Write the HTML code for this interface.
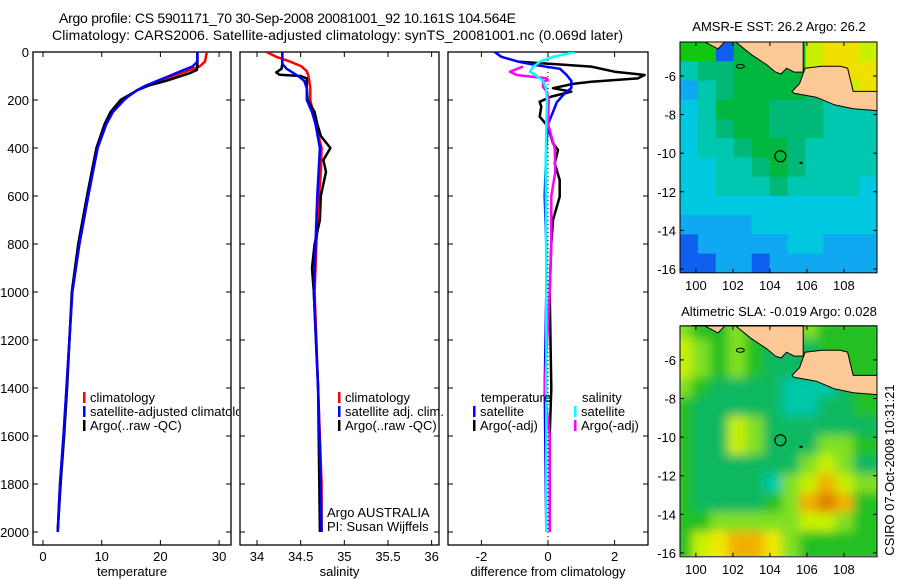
<!DOCTYPE html>
<html><head><meta charset="utf-8"><style>
body{margin:0;background:#fff;}
svg{display:block;font-family:"Liberation Sans",sans-serif;}
text{fill:#000;}
</style></head><body>
<svg id="fig" width="900" height="580" viewBox="0 0 900 580">
<defs>
<clipPath id="c1"><rect x="33" y="52" width="198" height="493"/></clipPath>
<clipPath id="c1leg"><rect x="33" y="52" width="206" height="493"/></clipPath>
<clipPath id="c2"><rect x="240" y="52" width="199" height="493"/></clipPath>
<clipPath id="c3"><rect x="448" y="52" width="200" height="493"/></clipPath>
<clipPath id="m1"><rect x="680" y="42" width="197" height="231"/></clipPath>
<clipPath id="m2"><rect x="680" y="325" width="197" height="231"/></clipPath>
<filter id="blur" x="-10%" y="-10%" width="120%" height="120%"><feGaussianBlur stdDeviation="5"/></filter>
</defs>
<text x="59" y="23" font-size="14" textLength="457">Argo profile: CS 5901171_70 30-Sep-2008 20081001_92 10.161S 104.564E</text>
<text x="52" y="40" font-size="14" textLength="571">Climatology: CARS2006. Satellite-adjusted climatology: synTS_20081001.nc (0.069d later)</text>
<g id="root"></g>
</svg>
<script>
// ---------- data ----------
const depths_tc = [0,40,60,80,100,120,140,160,180,200,250,300,400,600,800,1000,1400,1600,1800,2000];
const temp_clim = [27.9,27.6,26.7,24.5,22.1,19.9,17.8,16,14.8,13.6,11.8,10.7,9.3,7.7,6.2,5.0,4.0,3.5,2.9,2.5];
const depths_ts = [0,40,60,80,100,120,140,160,180,200,250,300,400,600,800,1000,1400,1600,1800,2000];
const temp_sat = [26.3,26.3,25.5,23.5,21.5,19.5,17.5,16,14.8,13.8,11.9,10.8,9.3,7.7,6.2,5.0,4.0,3.5,2.9,2.5];
const depths_ta = [0,60,75,90,100,120,140,160,200,250,300,400,600,800,1000,1400,1600,1800,2000];
const temp_argo = [26.3,26.3,26.2,24.8,23.5,21,18,16,13.2,11.5,10.5,9.1,7.5,6.0,4.9,4.1,3.6,3.0,2.5];

const depths_sc = [0,20,40,60,80,100,150,200,300,400,500,600,800,1000,1400,1800,2000];
const sal_clim = [34.11,34.22,34.38,34.51,34.57,34.59,34.61,34.61,34.67,34.74,34.73,34.71,34.68,34.66,34.70,34.74,34.74];
const depths_ss = [0,50,70,100,120,150,200,250,300,400,600,800,1000,1400,1800,2000];
const sal_sat = [34.29,34.29,34.34,34.47,34.54,34.57,34.57,34.63,34.67,34.72,34.69,34.67,34.65,34.70,34.73,34.74];
const depths_sa = [0,50,70,85,95,100,110,150,200,250,300,350,400,450,500,600,700,800,900,1000,1400,2000];
const sal_argo = [34.29,34.29,34.28,34.22,34.26,34.5,34.57,34.57,34.58,34.66,34.69,34.73,34.84,34.76,34.79,34.73,34.72,34.66,34.63,34.65,34.70,34.72];

const depths_dta = [40,61,82,96,110,124,133,151,165,186,207,228,269,311,381,408,464,533,603,700,800,1000,1400,1600,2000];
const diff_temp_argo = [-0.9,1.3,2.0,2.9,2.7,1.3,0.75,0.15,0.7,0.1,-0.25,-0.2,-0.25,0.0,0.15,0.3,0.2,0.35,0.35,0.15,0.1,0.05,0.1,0.05,0.05];
const depths_dts = [0,20,40,55,70,96,120,150,180,210,250,300,400,600,800,1000,1400,2000];
const diff_temp_sat = [-1.6,-1.4,-0.9,-0.35,0.36,0.56,0.7,0.7,0.45,0.26,0.15,0,-0.05,-0.1,-0.05,-0.05,-0.1,-0.05];
const depths_dss = [0,20,40,61,82,100,120,150,200,300,500,700,1000,2000];
const diff_sal_sat = [0.8,0.15,-0.24,-0.44,-0.54,-0.34,-0.15,-0.06,-0.03,-0.05,-0.07,-0.06,-0.05,-0.05];
const depths_dsa = [61,82,96,110,117,124,145,165,200,300,400,500,600,800,1000,1400,1600,2000];
const diff_sal_argo = [-0.75,-1.14,-0.94,-0.04,0.0,-0.15,-0.15,-0.04,0.02,0.0,0.2,0.22,0.1,0.1,0.05,-0.1,0.05,0.05];

const depth_ticks = [0,200,400,600,800,1000,1200,1400,1600,1800,2000];
const temp_ticks = [0,10,20,30];
const sal_ticks = [34,34.5,35,35.5,36];
const diff_ticks = [-2,0,2];
const lat_ticks = [-6,-8,-10,-12,-14,-16];
const lon_ticks = [100,102,104,106,108];

// SST map grid (11 cols x 12 rows, codes)
const sst_grid = [
[8,8,2,7,7,7,7,9,10,10,9],
[5,6,6,7,7,7,7,9,10,10,10],
[3,5,6,7,7,7,7,6,6,9,10],
[4,5,7,7,7,6,6,6,5,5,5],
[4,5,6,7,7,6,6,6,5,5,5],
[4,5,5,6,7,7,6,5,5,5,5],
[4,4,5,5,6,7,6,5,5,5,5],
[4,4,5,5,5,6,5,5,5,5,4],
[4,4,4,4,4,4,4,4,4,4,4],
[3,3,3,3,4,4,4,4,4,4,4],
[2,3,3,3,3,3,4,4,3,3,3],
[2,2,3,3,2,3,3,3,3,3,3]];
const sst_colors = ['#000080','#00008c','#1060f0','#10a8f0','#00c8e0','#00c8b0','#00b878','#00b840','#10c810','#c8f000','#f0e000','#f0a000'];
// SLA map grid
const sla_grid = [
"dccdcccdccc","edcdcbbbccc","edcdcbbbccc","dcbbbbaaabc","cbbbbbaabbc","cbbedbbbbbb",
"cbbedbbbddc","cbbbbbbdedb","cbbbbadeged","cbbbbcdghgc","ccdddddeedc","cefggfdcccc"];
const sla_colors = {a:'#00c8a8',b:'#10b860',c:'#20c020',d:'#80e020',e:'#c8f000',f:'#f0e800',g:'#f0b000',h:'#e08000'};
const sumatra = [[99.8,-4.2],[100.4,-4.2],[101.2,-4.6],[101.6,-4.2],[102.1,-4.2],[103,-4.9],[103.8,-5.4],[104.3,-5.8],[104.6,-5.9],[104.9,-5.6],[105.3,-5.8],[105.8,-5.8],[105.8,-4.2]];
const java = [[105.2,-6.8],[105.6,-6.4],[105.9,-5.6],[106.8,-5.5],[107.8,-5.5],[108.2,-5.6],[108.5,-6.8],[109.8,-6.8],[109.8,-7.8],[108.5,-7.7],[107.5,-7.5],[106.5,-7.1],[105.3,-6.9]];
const argo_pos = [104.564,-10.161];

// ---------- helpers ----------
const NS='http://www.w3.org/2000/svg';
const root=document.getElementById('root');
function mk(tag,attrs,parent){const e=document.createElementNS(NS,tag);for(const k in attrs)e.setAttribute(k,attrs[k]);(parent||root).appendChild(e);return e;}
const yD = d => 52 + d*0.24;
const xT = v => 43 + v*5.87;
const xS = v => 240 + (v-33.805)*87.3;
const xF = v => 548 + v*33.3;
const lonX = lon => 680 + (lon-99.14)*18.5;
const latY1 = lat => 42 + (-4.24-lat)*19.3;
const latY2 = lat => 325 + (-4.19-lat)*19.3;

function line(ds,vs,xf,color,clip,name){
  const g=mk('g',{'clip-path':'url(#'+clip+')'});
  const p=mk('polyline',{points:ds.map((d,i)=>xf(vs[i]).toFixed(1)+','+yD(d).toFixed(1)).join(' '),fill:'none',stroke:color,'stroke-width':2.5,'stroke-linejoin':'round'},g);
  
  
}
function txt(x,y,s,opts,name){
  const t=mk('text',Object.assign({x:x,y:y,'font-size':13},opts||{}));t.textContent=s;
  
  
  return t;
}
function panel(x0,x1,xticks,xf,tickLabelFmt,xlabel,name,leftLabels){
  const r=mk('rect',{x:x0,y:52,width:x1-x0,height:493,fill:'#fff',stroke:'#000','stroke-width':1.3});
  
  
  depth_ticks.forEach(d=>{
    mk('line',{x1:x0,x2:x0+5,y1:yD(d),y2:yD(d),stroke:'#000'});
    mk('line',{x1:x1-5,x2:x1,y1:yD(d),y2:yD(d),stroke:'#000'});
    if(leftLabels) txt(x0-4,yD(d)+5,String(d),{'text-anchor':'end'},'depth-tick-label');
  });
  xticks.forEach(v=>{
    mk('line',{x1:xf(v),x2:xf(v),y1:545,y2:540,stroke:'#000'});
    mk('line',{x1:xf(v),x2:xf(v),y1:52,y2:57,stroke:'#000'});
    txt(xf(v),561,tickLabelFmt(v),{'text-anchor':'middle'},'x-tick-label');
  });
  txt((x0+x1)/2,576,xlabel,{'text-anchor':'middle'},'x-axis-title');
}
function legend(x,y,color,label,name,clip){
  const g=mk('g',clip?{'clip-path':'url(#'+clip+')'}:{});
  mk('rect',{x:x,y:y-10,width:2.5,height:11,fill:color},g);
  const t=mk('text',{x:x+7,y:y,'font-size':13},g);t.textContent=label;
  
  
}

// ---------- profile panels ----------
panel(33,231,temp_ticks,xT,v=>String(v),'temperature','temperature-panel',true);
panel(240,439,sal_ticks,xS,v=>String(v),'salinity','salinity-panel',false);
panel(448,648,diff_ticks,xF,v=>String(v),'difference from climatology','difference-panel',false);
mk('line',{x1:xF(0),x2:xF(0),y1:52,y2:545,stroke:'#000','stroke-dasharray':'1,3'});

line(depths_tc,temp_clim,xT,'#f00','c1','temp-climatology-line');
line(depths_ta,temp_argo,xT,'#000','c1','temp-argo-line');
line(depths_ts,temp_sat,xT,'#00f','c1','temp-satellite-line');
line(depths_sc,sal_clim,xS,'#f00','c2','sal-climatology-line');
line(depths_sa,sal_argo,xS,'#000','c2','sal-argo-line');
line(depths_ss,sal_sat,xS,'#00f','c2','sal-satellite-line');
line(depths_dta,diff_temp_argo,xF,'#000','c3','diff-temp-argo-line');
line(depths_dts,diff_temp_sat,xF,'#00f','c3','diff-temp-satellite-line');
line(depths_dsa,diff_sal_argo,xF,'#f0f','c3','diff-sal-argo-line');
line(depths_dss,diff_sal_sat,xF,'#0ff','c3','diff-sal-satellite-line');

legend(83,402,'#f00','climatology','legend-climatology');
legend(83,416,'#00f','satellite-adjusted climatology','legend-satellite-adjusted','c1leg');
legend(83,430,'#000','Argo(..raw -QC)','legend-argo');
legend(338,402,'#f00','climatology','legend-sal-climatology');
legend(338,416,'#00f','satellite adj. clim.','legend-sal-satellite');
legend(338,430,'#000','Argo(..raw -QC)','legend-sal-argo');
txt(327,517,'Argo AUSTRALIA',{},'argo-australia-label');
txt(327,531,'PI: Susan Wijffels',{},'pi-label');
txt(481,402,'temperature',{},'legend-temperature-heading');
legend(473,416,'#00f','satellite','legend-diff-temp-satellite');
legend(473,430,'#000','Argo(-adj)','legend-diff-temp-argo');
txt(582,402,'salinity',{},'legend-salinity-heading');
legend(574,416,'#0ff','satellite','legend-diff-sal-satellite');
legend(574,430,'#f0f','Argo(-adj)','legend-diff-sal-argo');

// ---------- maps ----------
function map(latY,clip,grid,colorOf,blur,title,titleY,name){
  const y0=latY(-4.24), y1=latY(-16.2);
  const g=mk('g',{'clip-path':'url(#'+clip+')'});
  
  
  const inner=mk('g',blur?{filter:'url(#blur)'}:{},g);
  const nr=grid.length,nc=grid[0].length;
  const lonW=(109.8-99.14)/nc, latH=(16.2-4.24)/nr;
  for(let r=0;r<nr;r++)for(let c=0;c<nc;c++){
    const x=lonX(99.14+c*lonW), y=latY(-4.24-r*latH);
    const cell=mk('rect',{x:x-(blur?6:0),y:y-(blur?6:0),width:lonW*18.5+0.6+(blur?12:0),height:latH*19.3+0.6+(blur?12:0),fill:colorOf(grid[r][c])},inner);
    
    
  }
  [sumatra,java].forEach(poly=>{
    const p=mk('polygon',{points:poly.map(q=>lonX(q[0]).toFixed(1)+','+latY(q[1]).toFixed(1)).join(' '),fill:'#fcc896',stroke:'#000','stroke-width':1},g);
    
    
  });
  mk('ellipse',{cx:lonX(102.4),cy:latY(-5.5),rx:4,ry:2,fill:'none',stroke:'#000'},g);
  mk('rect',{x:lonX(105.6),y:latY(-10.45),width:3,height:2,fill:'#000'},g);
  const c=mk('circle',{cx:lonX(argo_pos[0]),cy:latY(argo_pos[1]),r:5.5,fill:'none',stroke:'#000','stroke-width':1.2});
  
  
  mk('rect',{x:680,y:y0,width:197,height:y1-y0,fill:'none',stroke:'#000','stroke-width':1});
  lat_ticks.forEach(l=>{
    mk('line',{x1:680,x2:684,y1:latY(l),y2:latY(l),stroke:'#000'});
    mk('line',{x1:873,x2:877,y1:latY(l),y2:latY(l),stroke:'#000'});
    txt(676,latY(l)+5,String(l),{'text-anchor':'end'},'lat-tick-label');
  });
  lon_ticks.forEach(l=>{
    mk('line',{x1:lonX(l),x2:lonX(l),y1:y1,y2:y1-4,stroke:'#000'});
    mk('line',{x1:lonX(l),x2:lonX(l),y1:y0,y2:y0+4,stroke:'#000'});
    txt(lonX(l),y1+17,String(l),{'text-anchor':'middle'},'lon-tick-label');
  });
  txt(779,titleY,title,{'text-anchor':'middle'},'map-title');
}
map(latY1,'m1',sst_grid,v=>sst_colors[v],false,'AMSR-E SST: 26.2 Argo: 26.2',31,'sst-map');
map(latY2,'m2',sla_grid,v=>sla_colors[v],true,'Altimetric SLA: -0.019 Argo: 0.028',316,'sla-map');
txt(0,0,'CSIRO 07-Oct-2008 10:31:21',{transform:'translate(894,470) rotate(-90)','text-anchor':'middle'},'timestamp-label');
</script>
</body></html>
